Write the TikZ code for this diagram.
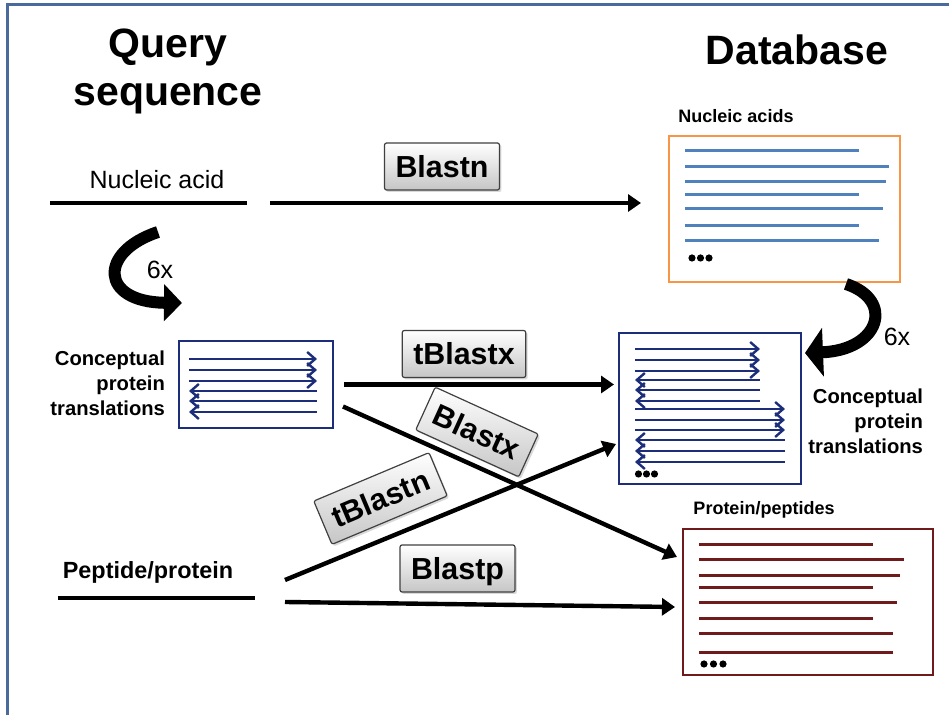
\documentclass[tikz,border=0pt]{standalone}
\usepackage{fontspec}
\setmainfont{Liberation Sans}
\usetikzlibrary{arrows.meta, positioning, fit, shadows}
\definecolor{framebl}{HTML}{4A6A9C}
\definecolor{nucbl}{HTML}{4F81BD}
\definecolor{nucor}{HTML}{F79646}
\definecolor{trnavy}{HTML}{1C2D7A}
\definecolor{protred}{HTML}{6F1B1B}

\begin{document}
\begin{tikzpicture}[
  x=0.5pt, y=-0.5pt,
  head/.style={font=\bfseries\fontsize{20.5}{24}\selectfont, align=center},
  lbl/.style={font=\fontsize{12.5}{15}\selectfont},
  blbl/.style={font=\bfseries\fontsize{10.1}{12.5}\selectfont, align=right},
  dblbl/.style={font=\bfseries\fontsize{9}{11}\selectfont},
  prog/.style={draw=gray!50!black, line width=0.6pt, rounded corners=1pt, top color=white, bottom color=gray!45,
    drop shadow={opacity=0.3, shadow xshift=1pt, shadow yshift=-1pt},
    font=\bfseries\fontsize{15.2}{18}\selectfont, text height=10.9pt, text depth=0pt, inner xsep=5.5pt, inner ysep=6.3pt},
  dbbox/.style={line width=1pt, inner sep=0pt},
  qline/.style={line width=2.2pt},
  arr/.style={line width=2.2pt, -{Triangle[length=6.5pt, width=8.5pt]}},
  curv/.style={line width=6pt, -{Triangle[length=9pt, width=18pt]}},
  nucl/.style={nucbl, line width=1.5pt},
  trl/.style={trnavy, line width=1.2pt, -{Straight Barb[length=4pt, width=7pt]}},
  prl/.style={protred, line width=1.5pt}
]
\useasboundingbox (0,0) rectangle (949,715);
\draw[framebl, line width=1.5pt] (7,715) -- (7,5) -- (949,5);

\node[head] (qhead) at (168,71) {Query\\sequence};
\node[head] (dbhead) at (797,50) {Database};

% query side
\node[lbl] (nalbl) at (157,180) {Nucleic acid};
\coordinate (na-l) at (50,203);
\coordinate (na-r) at (247,203);
\draw[qline] (na-l) -- (na-r);

\node[lbl, font=\bfseries\fontsize{11.7}{14}\selectfont] (pplbl) at (148,572) {Peptide/protein};
\coordinate (pp-l) at (58,598);
\coordinate (pp-r) at (255,598);
\draw[qline] (pp-l) -- (pp-r);

\draw[curv] (158,232) .. controls (98,252) and (100,302) .. (182,303);
\node[lbl] (sixl) at (160,270) {6x};

\node[draw=trnavy, dbbox, fit={(179,341) (333,428)}] (lcpt) {};
\foreach \yy in {359,370,381} \draw[trl] (189,\yy) -- (317,\yy);
\foreach \yy in {391,401,412} \draw[trl] (317,\yy) -- (189,\yy);
\node[blbl, anchor=east] (lcptlbl) at (172,383) {Conceptual\\protein\\translations};

% database side
\node[dblbl] (nuclbl) at (736,116) {Nucleic acids};
\node[draw=nucor, dbbox, fit={(669,136) (900,282)}] (nucdb) {};
\foreach \yy/\xe in {151/859, 167/889, 182/886, 195/859, 209/883, 226/859, 241/879}
  \draw[nucl] (685,\yy) -- (\xe,\yy);
\foreach \xx in {692,700.5,709} \fill (\xx,258) circle (1.8pt);

\node[draw=trnavy, dbbox, fit={(619,333) (801,484)}] (rcpt) {};
\foreach \yy in {349,360,371} \draw[trl] (635,\yy) -- (760,\yy);
\foreach \yy in {380,390,401} \draw[trl] (760,\yy) -- (635,\yy);
\foreach \yy in {409,420,430} \draw[trl] (635,\yy) -- (785,\yy);
\foreach \yy in {440,451,462} \draw[trl] (785,\yy) -- (635,\yy);
\foreach \xx in {638.5,646.5,654.5} \fill (\xx,474) circle (1.8pt);
\node[blbl, anchor=east] (rcptlbl) at (930,421) {Conceptual\\protein\\translations};

\draw[curv, -{Triangle[length=9pt, width=24pt]}] (846,284) .. controls (895,300) and (880,350) .. (805,353);
\node[lbl] (sixr) at (897,337) {6x};

\node[dblbl] (protlbl) at (764,510) {Protein/peptides};
\node[draw=protred, dbbox, fit={(683,529) (933,675)}] (prot) {};
\foreach \yy/\xe in {545/873, 560/904, 576/900, 588/873, 603/897, 619/873, 634/893, 653/893}
  \draw[prl] (699,\yy) -- (\xe,\yy);
\foreach \xx in {704,713.5,723} \fill (\xx,664) circle (1.8pt);

% searches
\coordinate (bn-s) at (270,203);
\draw[arr, shorten >=13.5pt] (bn-s) -- (bn-s -| nucdb.west);
\draw[arr, shorten <=5pt, shorten >=2pt] (lcpt.east) -- (lcpt.east -| rcpt.west);
\draw[arr] ([shift={(9,22)}]lcpt.east) -- ([shift={(-5,-45)}]prot.west);
\draw[arr] ([shift={(30,-18)}]pp-r) -- ([shift={(-2,-41)}]rcpt.south west);
\draw[arr] ([shift={(30,4)}]pp-r) -- ([shift={(-7,5)}]prot.west);

\node[prog] (blastn) at (442,166.5) {Blastn};
\node[prog] (tblastx) at (464,354) {tBlastx};
\node[prog, rotate=-24.5] (blastx) at (477,432) {Blastx};
\node[prog, rotate=22.8] (tblastn) at (380.5,498.5) {tBlastn};
\node[prog] (blastp) at (457.5,568.5) {Blastp};
\end{tikzpicture}
\end{document}
